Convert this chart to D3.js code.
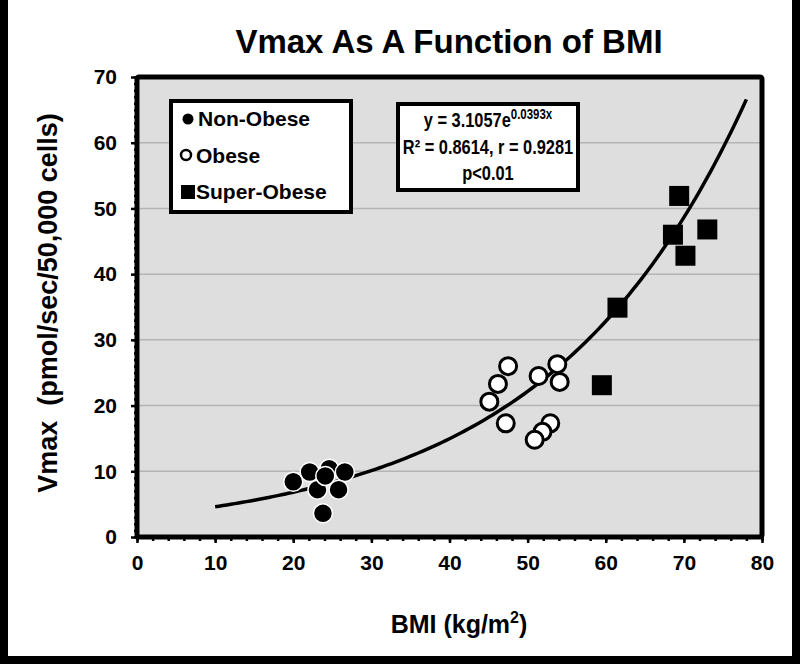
<!DOCTYPE html>
<html>
<head>
<meta charset="utf-8">
<script src="https://cdn.jsdelivr.net/npm/d3@7"></script>
<style>
  body { margin: 0; background: #fff; }
  text { font-family: Arial, "Liberation Sans", sans-serif; font-weight: bold; }
  .tick-label { font-family: "Liberation Sans Narrow", "Arial Narrow", Arial, "Liberation Sans", sans-serif; }
</style>
</head>
<body>
<svg id="chart" width="800" height="664"></svg>
<script>
// data
var nonObeseBMI  = [20.0, 22.1, 24.6, 26.6, 23.1, 25.8, 23.8, 24.1];
var nonObeseVmax = [8.4, 9.9, 10.4, 9.9, 7.2, 7.2, 3.6, 9.3];
var obeseBMI  = [47.5, 46.2, 45.1, 47.2, 51.4, 53.8, 54.1, 52.9, 51.9, 50.9];
var obeseVmax = [26.0, 23.3, 20.6, 17.3, 24.5, 26.3, 23.6, 17.3, 16.0, 14.8];
var superBMI  = [69.4, 73.0, 68.6, 70.2, 61.5, 59.5];
var superVmax = [51.9, 46.8, 46.0, 42.8, 34.9, 23.1];
var xTicks = [0, 10, 20, 30, 40, 50, 60, 70, 80];
var yTicks = [0, 10, 20, 30, 40, 50, 60, 70];
var gridLines = [10, 20, 30, 40, 50, 60];
var fitA = 3.1057, fitB = 0.0393, fitFrom = 10, fitTo = 78;
var legendLabels = ["Non-Obese", "Obese", "Super-Obese"];

var svg = d3.select("#chart"),
    width = +svg.attr("width"),
    height = +svg.attr("height");

var plotLeft = 137, plotRight = 762, plotTop = 77, plotBottom = 537;

var x = d3.scaleLinear().domain([0, 80]).range([plotLeft, plotRight]);
var y = d3.scaleLinear().domain([0, 70]).range([plotBottom, plotTop]);

// outer frame (left, right, bottom)
svg.append("path")
    .attr("d", "M4,0V" + (height - 4) + "H" + (width - 4) + "V0")
    .attr("fill", "none")
    .attr("stroke", "#000")
    .attr("stroke-width", 8);

svg.append("text")
    .attr("x", 449).attr("y", 53)
    .attr("text-anchor", "middle")
    .attr("font-size", 33)
    .text("Vmax As A Function of BMI");

// plot background
svg.append("rect")
    .attr("x", plotLeft).attr("y", plotTop)
    .attr("width", plotRight - plotLeft).attr("height", plotBottom - plotTop)
    .attr("fill", "#dedede");

svg.append("g")
  .selectAll("line")
  .data(gridLines)
  .enter().append("line")
    .attr("x1", plotLeft).attr("x2", plotRight)
    .attr("y1", y).attr("y2", y)
    .attr("stroke", "#b4b4b4")
    .attr("stroke-width", 1.5);

// axes with minor ticks
var xMinor = d3.axisBottom(x).tickValues(d3.range(0, 81, 2)).tickSize(4).tickFormat("");
var yMinor = d3.axisLeft(y).tickValues(d3.range(0, 71, 1)).tickSize(3).tickFormat("");
var xAxis = d3.axisBottom(x).tickValues(xTicks).tickSize(6).tickPadding(12);
var yAxis = d3.axisLeft(y).tickValues(yTicks).tickSize(6).tickPadding(14);

[xMinor, xAxis].forEach(function(a) {
  svg.append("g").attr("transform", "translate(0," + plotBottom + ")").call(a);
});
[yMinor, yAxis].forEach(function(a) {
  svg.append("g").attr("transform", "translate(" + plotLeft + ",0)").call(a);
});
svg.selectAll(".domain").remove();
svg.selectAll(".tick line").attr("stroke", "#000").attr("stroke-width", 2.5);
svg.selectAll(".tick text")
    .attr("class", "tick-label")
    .attr("fill", "#000")
    .attr("font-size", 21)
    .attr("font-family", null);

// plot border
svg.append("rect")
    .attr("x", plotLeft).attr("y", plotTop)
    .attr("width", plotRight - plotLeft).attr("height", plotBottom - plotTop)
    .attr("rx", 2)
    .attr("fill", "none")
    .attr("stroke", "#000")
    .attr("stroke-width", 5);

// fitted curve
var line = d3.line()
    .x(function(d) { return x(d); })
    .y(function(d) { return y(fitA * Math.exp(fitB * d)); });

svg.append("path")
    .datum(d3.range(fitFrom, fitTo + 0.01, 0.5))
    .attr("d", line)
    .attr("fill", "none")
    .attr("stroke", "#000")
    .attr("stroke-width", 3.5);

// points
svg.append("g")
  .selectAll("circle")
  .data(d3.range(nonObeseBMI.length))
  .enter().append("circle")
    .attr("cx", function(i) { return x(nonObeseBMI[i]); })
    .attr("cy", function(i) { return y(nonObeseVmax[i]); })
    .attr("r", 9.5)
    .attr("fill", "#000")
    .attr("stroke", "#fff")
    .attr("stroke-width", 1.5);

svg.append("g")
  .selectAll("circle")
  .data(d3.range(obeseBMI.length))
  .enter().append("circle")
    .attr("cx", function(i) { return x(obeseBMI[i]); })
    .attr("cy", function(i) { return y(obeseVmax[i]); })
    .attr("r", 8.5)
    .attr("fill", "#fff")
    .attr("stroke", "#000")
    .attr("stroke-width", 3);

svg.append("g")
  .selectAll("rect")
  .data(d3.range(superBMI.length))
  .enter().append("rect")
    .attr("x", function(i) { return x(superBMI[i]) - 10; })
    .attr("y", function(i) { return y(superVmax[i]) - 10; })
    .attr("width", 20)
    .attr("height", 20)
    .attr("fill", "#000");

// legend
var legend = svg.append("g");
legend.append("rect")
    .attr("x", 171).attr("y", 101)
    .attr("width", 180).attr("height", 111)
    .attr("fill", "#fff")
    .attr("stroke", "#000")
    .attr("stroke-width", 4);

legend.append("circle").attr("cx", 188).attr("cy", 119).attr("r", 5.5).attr("fill", "#000");
legend.append("circle").attr("cx", 186).attr("cy", 155).attr("r", 5).attr("fill", "#fff")
    .attr("stroke", "#000").attr("stroke-width", 2.5);
legend.append("rect").attr("x", 181).attr("y", 185).attr("width", 14).attr("height", 14).attr("fill", "#000");

legend.selectAll("text")
  .data(legendLabels)
  .enter().append("text")
    .attr("x", function(d, i) { return i == 0 ? 198 : 196; })
    .attr("y", function(d, i) { return 126 + i * 36.5; })
    .attr("font-size", 21)
    .text(function(d) { return d; });

// equation box
var eq = svg.append("g");
eq.append("rect")
    .attr("x", 398).attr("y", 104)
    .attr("width", 180).attr("height", 86)
    .attr("fill", "#fff")
    .attr("stroke", "#000")
    .attr("stroke-width", 4);

var eqText = eq.append("g").attr("transform", "translate(488,0)scale(0.82,1)");

var eq1 = eqText.append("text")
    .attr("x", 0).attr("y", 127)
    .attr("text-anchor", "middle")
    .attr("font-size", 20);
eq1.append("tspan").text("y = " + fitA + "e");
eq1.append("tspan").attr("font-size", 14).attr("dy", -8).text(fitB + "x");

eqText.append("text")
    .attr("x", 0).attr("y", 154)
    .attr("text-anchor", "middle")
    .attr("font-size", 20)
    .text("R² = 0.8614, r = 0.9281");

eqText.append("text")
    .attr("x", 0).attr("y", 180)
    .attr("text-anchor", "middle")
    .attr("font-size", 20)
    .text("p<0.01");

// axis titles
var xt = svg.append("text")
    .attr("x", 459).attr("y", 633)
    .attr("text-anchor", "middle")
    .attr("font-size", 25);
xt.append("tspan").text("BMI (kg/m");
xt.append("tspan").attr("font-size", 16).attr("dy", -10).text("2");
xt.append("tspan").attr("dy", 10).text(")");

svg.append("text")
    .attr("transform", "translate(57,303)rotate(-90)")
    .attr("text-anchor", "middle")
    .attr("font-size", 27)
    .attr("xml:space", "preserve")
    .text("Vmax  (pmol/sec/50,000 cells)");
</script>
</body>
</html>
